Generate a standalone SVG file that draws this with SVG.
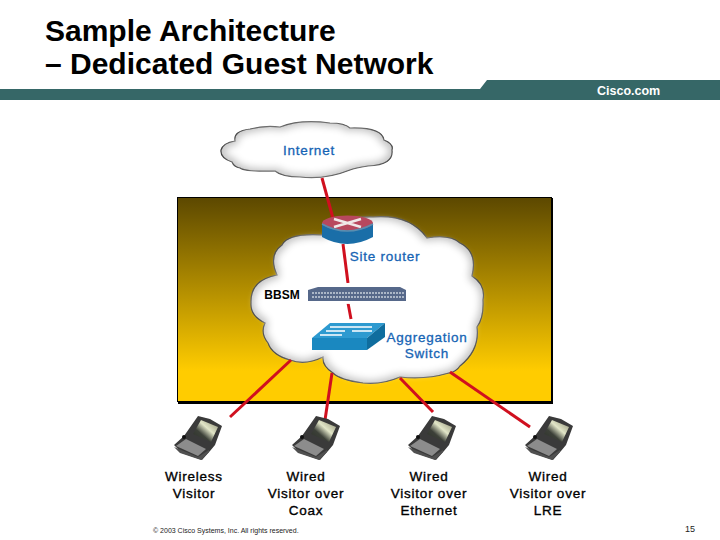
<svg xmlns="http://www.w3.org/2000/svg" width="720" height="540" viewBox="0 0 720 540">
<style>
text{font-family:"Liberation Sans",Arial,sans-serif}
.t{font-size:30px;font-weight:700;fill:#000}
.b{font-size:13.5px;fill:#1664b4;text-anchor:middle;stroke:#1664b4;stroke-width:.3;letter-spacing:.75px}
.k{font-size:13.5px;fill:#000;text-anchor:middle;stroke:#000;stroke-width:.35;letter-spacing:.75px}
.cloud{fill:#c8c8c8;stroke:#222;stroke-width:1.2;filter:url(#puffy)}
.link{stroke:#d0101f;stroke-width:3;fill:none}
</style>
<defs>
<linearGradient id="bg" x1="0" y1="0" x2="0" y2="1"><stop offset="0" stop-color="#5c4800"/><stop offset=".85" stop-color="#ffcc00"/><stop offset="1" stop-color="#ffcc00"/></linearGradient>
<filter id="puffy" x="-5%" y="-5%" width="110%" height="110%"><feMorphology in="SourceAlpha" operator="erode" radius="4"/><feGaussianBlur stdDeviation="3.500" result="b"/><feFlood flood-color="#fff"/><feComposite in2="b" operator="in" result="w"/><feMerge><feMergeNode in="SourceGraphic"/><feMergeNode in="w"/></feMerge></filter>
<linearGradient id="sc" x1="0" y1="1" x2="1" y2="0"><stop offset="0" stop-color="#2c302a"/><stop offset=".35" stop-color="#3c4038"/><stop offset=".6" stop-color="#e2e6c8"/><stop offset="1" stop-color="#8a8a70"/></linearGradient>
<g id="laptop">
<path d="M0 30L10 21L24 1L36 4L48 11L41 30L36 36L28 45L8 38Z" fill="#3a3a3a"/>
<path d="M19 19L27 5L44 12L37 27Z" fill="url(#sc)"/>
<path d="M2 31L12 24L32 34L24 41Z" fill="#8c8c8c"/>
<path d="M0 32L24 42L35 35L35 37L27 45L6 38Z" fill="#505050"/>
<circle cx="10" cy="22" r="2" fill="#111"/>
</g>
</defs>
<rect width="720" height="540" fill="#fff"/>
<g id="header">
<path d="M0 89H480L487 80H720V100H0Z" fill="#366767"/>
<text x="597" y="95" font-size="12.500" font-weight="700" fill="#fff">Cisco.com</text>
<text class="t" x="45" y="41">Sample Architecture</text>
<text class="t" x="45" y="74">– Dedicated Guest Network</text>
</g>
<rect id="background" x="177.500" y="197.500" width="374" height="204" fill="url(#bg)" stroke="#000" stroke-width="1"/>
<path d="M552 198V403H178" fill="none" stroke="#000" stroke-width="2"/>
<g id="internet">
<path class="cloud" d="M221 150Q223 143 235 141Q233 131 250 129Q265 125 280 127Q300 119 330 123Q345 123 350 128Q382 127 384 140Q394 144 392 150Q394 165 368 166Q355 168 350 170Q325 180 300 177Q282 177 275 171Q245 172 240 168Q234 167 232 162Q220 158 221 150Z"/>
<text class="b" x="309" y="155">Internet</text>
</g>
<g id="aggregation-cloud">
<path class="cloud" d="M251 303Q250 280 277 275Q268 255 282 245Q288 233 322 235Q340 216 373 217Q410 214 427 238Q450 234 460 243Q478 252 472 276Q486 285 483 300Q484 318 477 327Q480 350 460 366Q456 372 449 373Q425 380 400 377Q382 385 363 383Q340 380 333 373Q322 366 323 357Q305 366 290 360Q272 355 268 343Q260 333 265 323Q250 316 251 303Z"/>
</g>
<g id="connectors">
<path class="link" d="M322 178L334 222"/>
<path class="link" d="M343 244L348 283"/>
<path class="link" d="M348 303L351 319"/>
<path class="link" d="M291 360L230 417"/>
<path class="link" d="M332 373L325 420"/>
<path class="link" d="M400 378L433 412"/>
<path class="link" d="M450 372L530 427"/>
</g>
<g id="site-router">
<path d="M322 223V237Q347 251 373 237V223Z" fill="#1a6ea8"/>
<ellipse cx="347.500" cy="223" rx="25.500" ry="7.500" fill="#b8485e"/>
<path d="M334 219L361 227M334 227L361 219" stroke="#f0e8e8" stroke-width="2.500"/>
<path d="M322 224Q347 238 373 224" fill="none" stroke="#5b8eb0" stroke-width="1.500"/>
<text class="b" x="385" y="261">Site router</text>
</g>
<g id="bbsm">
<rect x="305" y="283" width="105" height="21" fill="#fff" opacity=".9"/>
<path d="M308 290L318 287H400L406 290V301H308Z" fill="#56688a"/>
<path d="M312 293H404M312 297H404" stroke="#c8d0dc" stroke-width="1.300" stroke-dasharray="2 1"/>
<text x="282" y="299" font-size="12" font-weight="700" text-anchor="middle" fill="#000">BBSM</text>
</g>
<g id="aggregation-switch">
<path d="M312 338L330 323H385L367 338Z" fill="#2d9ad0"/>
<path d="M312 338H367V350H312Z" fill="#1a88c0"/>
<path d="M367 338L385 323V337L367 350Z" fill="#0f6d9e"/>
<path d="M326 331L345 331M352 331L372 331M320 335L342 335M345 327L372 327M330 327L345 327" stroke="#fff" stroke-width="1.500"/>
<text class="b" x="427" y="342">Aggregation</text>
<text class="b" x="427" y="358">Switch</text>
</g>
<g id="wireless-visitor"><use href="#laptop" x="174" y="415"/>
<text class="k" x="194" y="481">Wireless</text><text class="k" x="194" y="498">Visitor</text></g>
<g id="wired-coax"><use href="#laptop" x="292" y="415"/>
<text class="k" x="306" y="481">Wired</text><text class="k" x="306" y="498">Visitor over</text><text class="k" x="306" y="515">Coax</text></g>
<g id="wired-ethernet"><use href="#laptop" x="408" y="415"/>
<text class="k" x="429" y="481">Wired</text><text class="k" x="429" y="498">Visitor over</text><text class="k" x="429" y="515">Ethernet</text></g>
<g id="wired-lre"><use href="#laptop" x="525" y="415"/>
<text class="k" x="548" y="481">Wired</text><text class="k" x="548" y="498">Visitor over</text><text class="k" x="548" y="515">LRE</text></g>
<text x="153" y="533" font-size="7" fill="#222">© 2003 Cisco Systems, Inc. All rights reserved.</text>
<text x="695" y="532" font-size="9" fill="#222" text-anchor="end">15</text>
</svg>
